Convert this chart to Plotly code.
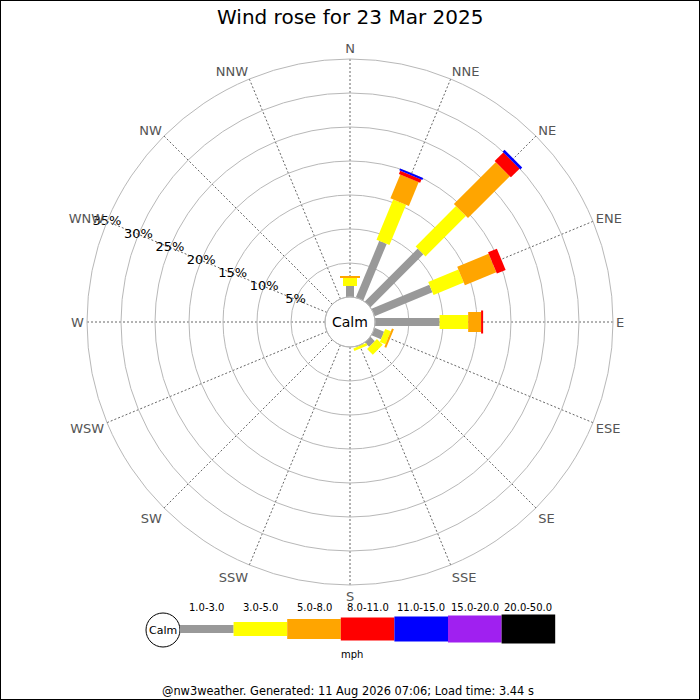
import plotly.graph_objects as go

# ---------------- data ----------------
directions = ["N", "NNE", "NE", "ENE", "E", "ESE", "SE", "SSE",
              "S", "SSW", "SW", "WSW", "W", "WNW", "NW", "NNW"]
band_labels = ["1.0-3.0", "3.0-5.0", "5.0-8.0", "8.0-11.0",
               "11.0-15.0", "15.0-20.0", "20.0-50.0"]
# percentage of time per direction for each speed band (mph)
speed_1_3   = [1.6, 9.0, 11.0, 9.2, 9.5, 1.5, 0.9, 0.1, 0, 0, 0, 0, 0, 0, 0, 0]
speed_3_5   = [1.2, 6.4, 8.4, 4.8, 4.2, 0.9, 1.2, 0.4, 0, 0, 0, 0, 0, 0, 0, 0]
speed_5_8   = [0.3, 3.8, 8.7, 5.0, 1.9, 0.3, 0, 0, 0, 0, 0, 0, 0, 0, 0, 0]
speed_8_11  = [0, 0.5, 1.8, 1.4, 0.3, 0, 0, 0, 0, 0, 0, 0, 0, 0, 0, 0]
speed_11_15 = [0, 0.3, 0.4, 0, 0, 0, 0, 0, 0, 0, 0, 0, 0, 0, 0, 0]
speed_15_20 = [0] * 16
speed_20_50 = [0] * 16
ring_values = [5, 10, 15, 20, 25, 30, 35]

bands = [speed_1_3, speed_3_5, speed_5_8, speed_8_11,
         speed_11_15, speed_15_20, speed_20_50]

# ---------------- styles ----------------
band_colors = ["#999999", "#ffff00", "#ffa500", "#ff0000",
               "#0000ff", "#a020f0", "#000000"]
band_widths = [8, 14, 20, 23, 25, 27, 29]
FONT = "DejaVu Sans"
W = H = 700
CX, CY, R_OUT, R_CALM = 350, 322, 263, 25

fig = go.Figure()

# stacked segments drawn as thick radial strokes (constant pixel width)
cum = [0.0] * len(directions)
for vals, col, lw in zip(bands, band_colors, band_widths):
    th, rr = [], []
    for i, v in enumerate(vals):
        if v > 0:
            th += [directions[i], directions[i], None]
            rr += [cum[i], cum[i] + v, None]
        cum[i] += v
    if th:
        fig.add_trace(go.Scatterpolar(
            r=rr, theta=th, mode="lines",
            line=dict(color=col, width=lw),
            hoverinfo="skip", showlegend=False))

# ring labels along the WNW spoke
fig.add_trace(go.Scatterpolar(
    r=ring_values, theta=["WNW"] * len(ring_values), mode="text",
    text=[f"{v}%" for v in ring_values], textposition="middle center",
    textfont=dict(family=FONT, size=13, color="black"),
    hoverinfo="skip", showlegend=False))

fig.update_layout(
    width=W, height=H,
    margin=dict(l=0, r=0, t=0, b=0),
    paper_bgcolor="white",
    font=dict(family=FONT),
    polar=dict(
        domain=dict(x=[(CX - R_OUT) / W, (CX + R_OUT) / W],
                    y=[(H - CY - R_OUT) / H, (H - CY + R_OUT) / H]),
        hole=R_CALM / R_OUT,
        bgcolor="white",
        radialaxis=dict(range=[0, 35], tickvals=ring_values,
                        showticklabels=False, ticks="", showline=False,
                        gridcolor="#b8b8b8", gridwidth=1),
        angularaxis=dict(type="category", categoryarray=directions,
                         rotation=90, direction="clockwise", ticks="",
                         showline=True, linecolor="#b8b8b8", linewidth=1,
                         gridcolor="#666666", griddash="2px,2px", gridwidth=1,
                         tickfont=dict(family=FONT, size=13, color="#555555")),
    ),
)

def px(x):
    return x / W

def py(y):
    return 1 - y / H

shapes = []
# calm circle in the middle
shapes.append(dict(type="circle", xref="paper", yref="paper",
                   x0=px(CX - R_CALM), x1=px(CX + R_CALM),
                   y0=py(CY + R_CALM), y1=py(CY - R_CALM),
                   line=dict(color="#b8b8b8", width=1)))
# legend
LEG_Y = 629
LEG_X0 = 180
SEG_W = 53.6
shapes.append(dict(type="circle", xref="paper", yref="paper",
                   x0=px(163 - 17), x1=px(163 + 17),
                   y0=py(630 + 17), y1=py(630 - 17),
                   line=dict(color="black", width=1), fillcolor="white"))
annotations = [
    dict(text="Calm", x=px(163), y=py(630), xref="paper", yref="paper",
         showarrow=False, font=dict(family=FONT, size=11, color="black"),
         xanchor="center", yanchor="middle"),
]
for i, (lab, col, lw) in enumerate(zip(band_labels, band_colors, band_widths)):
    x0 = LEG_X0 + i * SEG_W
    shapes.append(dict(type="rect", xref="paper", yref="paper",
                       x0=px(x0), x1=px(x0 + SEG_W),
                       y0=py(LEG_Y + lw / 2), y1=py(LEG_Y - lw / 2),
                       line=dict(width=0), fillcolor=col, layer="above"))
    annotations.append(dict(text=lab, x=px(x0 + SEG_W / 2), y=py(607),
                            xref="paper", yref="paper", showarrow=False,
                            font=dict(family=FONT, size=10, color="black"),
                            xanchor="center", yanchor="middle"))
annotations.append(dict(text="mph", x=px(352), y=py(654), xref="paper",
                        yref="paper", showarrow=False,
                        font=dict(family=FONT, size=10, color="black"),
                        xanchor="center", yanchor="middle"))
# calm label, title and footer
annotations.append(dict(text="Calm", x=px(CX), y=py(CY), xref="paper",
                        yref="paper", showarrow=False,
                        font=dict(family=FONT, size=14, color="black"),
                        xanchor="center", yanchor="middle"))
annotations.append(dict(text="Wind rose for 23 Mar 2025", x=0.5, y=py(17),
                        xref="paper", yref="paper", showarrow=False,
                        font=dict(family=FONT, size=20, color="black"),
                        xanchor="center", yanchor="middle"))
annotations.append(dict(text="@nw3weather. Generated: 11 Aug 2026 07:06; Load time: 3.44 s",
                        x=px(348), y=py(691), xref="paper", yref="paper",
                        showarrow=False,
                        font=dict(family=FONT, size=11.4, color="black"),
                        xanchor="center", yanchor="middle"))
# outer frame
shapes.append(dict(type="rect", xref="paper", yref="paper",
                   x0=0, x1=1, y0=0, y1=1,
                   line=dict(color="black", width=2)))

fig.update_layout(shapes=shapes, annotations=annotations)
fig.write_html("out.html", config={"displayModeBar": False},
               post_script="document.body.style.margin='0';document.body.style.overflow='hidden';")
